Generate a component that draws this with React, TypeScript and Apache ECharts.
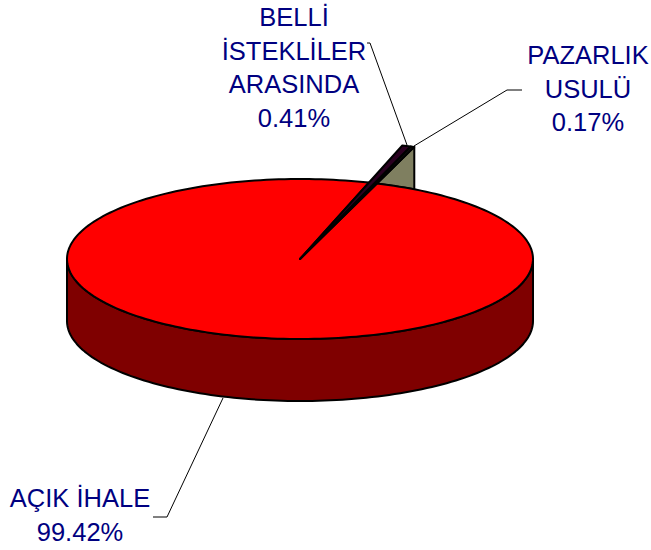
import React, { useEffect, useRef } from "react";
import * as echarts from "echarts";

const categories = ["AÇIK İHALE", "BELLİ İSTEKLİLER ARASINDA", "PAZARLIK USULÜ"];
const shares = [99.42, 0.41, 0.17];
const topColors = ["#ff0000", "#2a0020", "#101010"];
const wallColors = ["#7f0000", "#7f7f60", "#7f7f60"];

const CX = 300, CY = 259, RX = 233, RY = 80, DEPTH = 62;
const START_DEG = 72.8;    // where the second slice begins, measured counter-clockwise from east
const SLIM_REACH = 1.485;  // the thin slices stick out past the rim in the reference

const fontFamily = "'Liberation Sans', Arial, sans-serif";
const NAVY = "#000080";

const pt = (deg: number, f = 1, dy = 0): number[] => {
  const a = (deg * Math.PI) / 180;
  return [CX + RX * f * Math.cos(a), CY - RY * f * Math.sin(a) + dy];
};

// Angular range of slice i: slice 1 starts at START_DEG, slices run clockwise, slice 0 takes the remainder.
const total = shares.reduce((a, b) => a + b, 0);
const sweep = (i: number) => (shares[i] / total) * 360;
const ranges = (): number[][] => {
  const b0 = START_DEG, b1 = b0 - sweep(1), b2 = b1 - sweep(2);
  return [[b2, b2 - sweep(0)], [b0, b1], [b1, b2]];
};

const arcPts = (from: number, to: number, f = 1, dy = 0): number[][] => {
  const n = Math.max(2, Math.ceil(Math.abs(to - from) / 1.5));
  const out: number[][] = [];
  for (let k = 0; k <= n; k++) out.push(pt(from + ((to - from) * k) / n, f, dy));
  return out;
};

const stroke = { stroke: "#000", lineWidth: 2, lineJoin: "round" as const };

const wallItem = (params: any) => {
  const i = params.dataIndex;
  const r = ranges();
  if (i === 0) {
    const lower = arcPts(-180, 0);
    const lowerBottom = arcPts(0, -180, 1, DEPTH);
    return {
      type: "polygon",
      shape: { points: [...lower, ...lowerBottom] },
      style: { fill: wallColors[0], ...stroke },
    };
  }
  if (i === 2) {
    const tipOuter = pt(r[2][1], SLIM_REACH);
    const dx = (tipOuter[0] - CX) / RX;
    const rimDeg = (Math.acos(dx) * 180) / Math.PI;
    const rim = pt(rimDeg);
    const inner = pt(r[2][1]);
    return {
      type: "polygon",
      shape: { points: [tipOuter, rim, inner] },
      style: { fill: wallColors[2], ...stroke },
    };
  }
  return { type: "group", children: [] };
};

const topItem = (params: any) => {
  const i = params.dataIndex;
  const [a, b] = ranges()[i];
  if (i === 0) {
    return {
      type: "polygon",
      shape: { points: [[CX, CY], ...arcPts(a, b)] },
      style: { fill: topColors[0], ...stroke },
    };
  }
  return {
    type: "polygon",
    shape: { points: [[CX, CY], pt(a, SLIM_REACH), pt(b, SLIM_REACH)] },
    style: { fill: topColors[i], stroke: "#000", lineWidth: 2, lineJoin: "round" },
  };
};

const label = (lines: string[], x: number, y: number) =>
  lines.map((t, k) => ({
    type: "text",
    x,
    y: y + k * 33.7,
    style: {
      text: t,
      fill: NAVY,
      font: `25.5px ${fontFamily}`,
      textAlign: "center",
      textVerticalAlign: "middle",
    },
  }));

const leader = (points: number[][]) => ({
  type: "polyline",
  shape: { points },
  style: { stroke: "#000", lineWidth: 1, fill: "none" },
});

export default function App() {
  const ref = useRef<HTMLDivElement>(null);
  useEffect(() => {
    const chart = echarts.init(ref.current!, undefined, { renderer: "svg" });
    const data = shares.map((v, i) => ({ name: categories[i], value: v }));
    chart.setOption({
      animation: false,
      backgroundColor: "#ffffff",
      series: [
        { type: "custom", coordinateSystem: "none", renderItem: wallItem, data, z: 1, silent: true },
        { type: "custom", coordinateSystem: "none", renderItem: topItem, data, z: 2, silent: true },
      ],
      graphic: [
        ...label(["BELLİ", "İSTEKLİLER", "ARASINDA", `${shares[1].toFixed(2)}%`], 294, 17),
        ...label(["PAZARLIK", "USULÜ", `${shares[2].toFixed(2)}%`], 588, 55),
        ...label(["AÇIK İHALE", `${shares[0].toFixed(2)}%`], 80, 498),
        leader([[367, 43], [370, 43], [407, 145]]),
        leader([[522, 90], [507, 90], [414, 146]]),
        leader([[223, 398], [167, 517], [153, 517]]),
      ],
    });
    return () => chart.dispose();
  }, []);
  return (
    <div
      ref={ref}
      style={{ width: 651, height: 550, position: "absolute", left: 0, top: 0 }}
    />
  );
}
